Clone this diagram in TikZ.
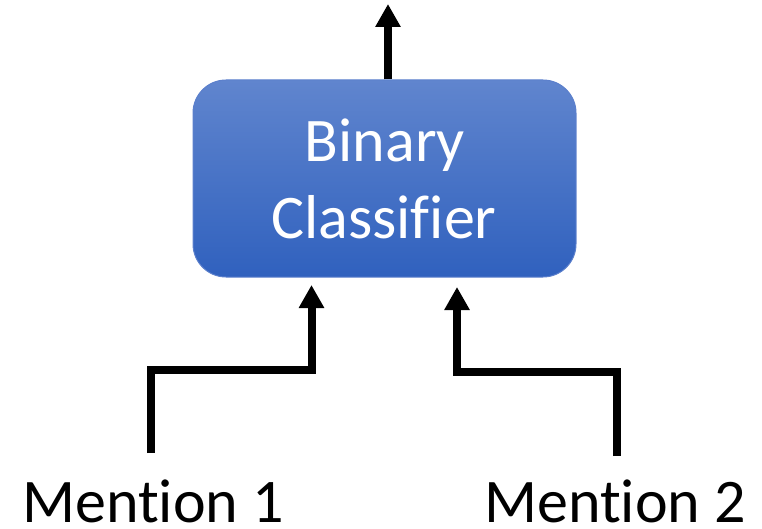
\documentclass[tikz,border=0pt]{standalone}
\usepackage{fontspec}
\setmainfont{Carlito}[Ligatures=NoCommon]
\usetikzlibrary{arrows.meta}
\definecolor{boxtop}{RGB}{96,133,206}
\definecolor{boxbot}{RGB}{48,97,190}
\definecolor{boxedge}{RGB}{92,128,204}
% zero kern: keeps letter pairs apart
\newcommand\nolig{\kern0pt }
\begin{document}
\begin{tikzpicture}[x=1bp,y=-1bp,
  clfbox/.style={draw=boxedge, line width=1bp, rounded corners=33bp,
    top color=boxtop, bottom color=boxbot,
    minimum width=383bp, minimum height=197bp, inner sep=0pt},
  bigtext/.style={font=\fontsize{62bp}{77bp}\selectfont, inner sep=0pt, text depth=0pt},
  conn/.style={line width=8bp, line join=miter, line cap=butt,
    -{Triangle[width=24bp,length=23bp]}}]
  \useasboundingbox (0,0) rectangle (762,529);

  % classifier block
  \node[clfbox] (clf) at (384.5,178.5) {};
  \node[bigtext, text=white, anchor=base] (l1) at (385,162) {Binary};
  \node[bigtext, text=white, anchor=base] (l2) at (384,239) {Classif\nolig ier};

  % inputs
  \node[bigtext, anchor=base] (m1) at (153,522) {Ment\nolig ion 1};
  \node[bigtext, anchor=base] (m2) at (615,522) {Ment\nolig ion 2};

  % connector end points
  \coordinate (out) at (388,4);
  \coordinate (s1) at (151,453);
  \coordinate (t1) at (311.5,285);
  \coordinate (s2) at (617,456);
  \coordinate (t2) at (457,287);

  % output arrow
  \draw[conn] (clf.north -| out) -- (out);
  % input arrows
  \draw[conn] (s1) -- (151,370) -| (t1);
  \draw[conn] (s2) -- (617,372) -| (t2);
\end{tikzpicture}
\end{document}
